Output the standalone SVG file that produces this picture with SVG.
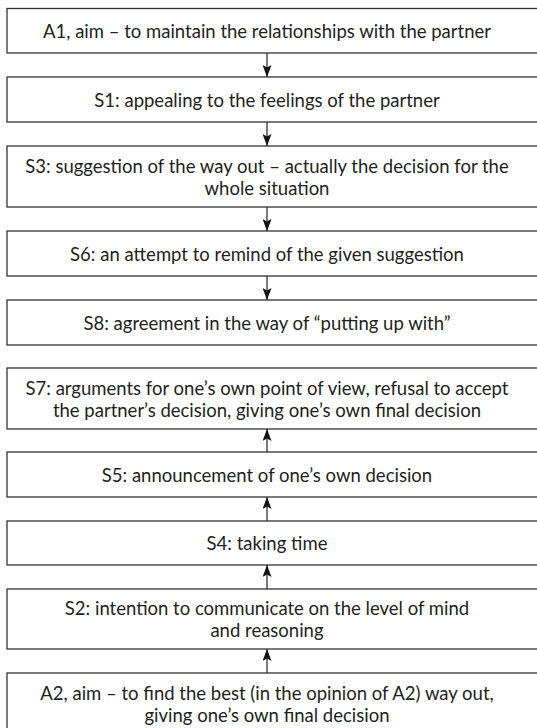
<svg xmlns="http://www.w3.org/2000/svg" width="537" height="728" viewBox="0 0 537 728">
<style>
.box{fill:#fff;stroke:#333;stroke-width:1.3}
.t{font-family:Lato,"Open Sans","Liberation Sans",sans-serif;font-size:18.5px;fill:#231f20;text-anchor:middle;dominant-baseline:central}
.c{stroke:#222;stroke-width:1.2;fill:none;marker-end:url(#ah)}
</style>
<defs>
<marker id="ah" viewBox="0 0 12 9" refX="12" refY="4.5" markerWidth="12" markerHeight="9" markerUnits="userSpaceOnUse" orient="auto">
<path d="M0,0 L12,4.5 L0,9 L2.5,4.5 Z" fill="#111"/>
</marker>
</defs>
<rect width="537" height="728" fill="#fff"/>
<g id="A1"><rect class="box" x="7" y="8.5" width="540" height="44.5"/><text class="t" x="267" y="31">A1, aim – to maintain the relationships with the partner</text></g>
<g id="S1"><rect class="box" x="7" y="77" width="540" height="45"/><text class="t" x="267" y="99.5">S1: appealing to the feelings of the partner</text></g>
<g id="S3"><rect class="box" x="7" y="146" width="540" height="61"/><text class="t" x="267" y="166">S3: suggestion of the way out – actually the decision for the</text><text class="t" x="267" y="187.5">whole situation</text></g>
<g id="S6"><rect class="box" x="7" y="231" width="540" height="45"/><text class="t" x="267" y="253.5">S6: an attempt to remind of the given suggestion</text></g>
<g id="S8"><rect class="box" x="7" y="300" width="540" height="45"/><text class="t" x="267" y="322.5">S8: agreement in the way of “putting up with”</text></g>
<g id="S7"><rect class="box" x="7" y="368" width="540" height="61"/><text class="t" x="267" y="387.5">S7: arguments for one’s own point of view, refusal to accept</text><text class="t" x="267" y="409.5">the partner’s decision, giving one’s own final decision</text></g>
<g id="S5"><rect class="box" x="7" y="452" width="540" height="45"/><text class="t" x="267" y="474.5">S5: announcement of one’s own decision</text></g>
<g id="S4"><rect class="box" x="7" y="521" width="540" height="44"/><text class="t" x="267" y="543">S4: taking time</text></g>
<g id="S2"><rect class="box" x="7" y="589" width="540" height="60"/><text class="t" x="267" y="608">S2: intention to communicate on the level of mind</text><text class="t" x="267" y="630">and reasoning</text></g>
<g id="A2"><rect class="box" x="7" y="673" width="540" height="62"/><text class="t" x="267" y="693">A2, aim – to find the best (in the opinion of A2) way out,</text><text class="t" x="267" y="715">giving one’s own final decision</text></g>
<g id="connectors">
<line class="c" x1="267" y1="53" x2="267" y2="77"/>
<line class="c" x1="267" y1="122" x2="267" y2="146"/>
<line class="c" x1="267" y1="207" x2="267" y2="231"/>
<line class="c" x1="267" y1="276" x2="267" y2="300"/>
<line class="c" x1="267" y1="673" x2="267" y2="649"/>
<line class="c" x1="267" y1="589" x2="267" y2="565"/>
<line class="c" x1="267" y1="521" x2="267" y2="497"/>
<line class="c" x1="267" y1="452" x2="267" y2="429"/>
</g>
</svg>
